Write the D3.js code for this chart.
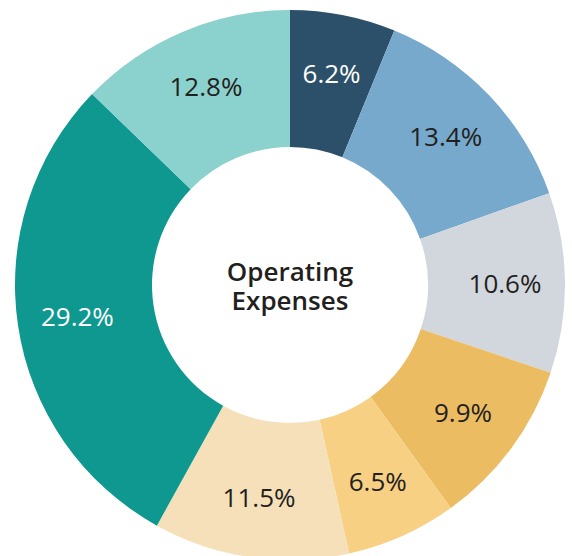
<!DOCTYPE html>
<html>
<head>
<script src="https://d3js.org/d3.v7.min.js"></script>
<style>
  body { margin: 0; background: #fff; }
  text { font-family: "Open Sans", sans-serif; }
</style>
</head>
<body>
<div id="viz"></div>
<script>
// slices, clockwise from 12 o'clock
var labels = ["6.2%", "13.4%", "10.6%", "9.9%", "6.5%", "11.5%", "29.2%", "12.8%"];
var values = [6.2, 13.4, 10.6, 9.9, 6.5, 11.5, 29.2, 12.8];
var colors = ["#2c5069", "#77a9cd", "#d2d7de", "#ecbc62", "#f7d084", "#f6e0ba", "#0e9890", "#8bd1cd"];
var textColors = ["#fff", "#231f20", "#231f20", "#231f20", "#231f20", "#231f20", "#fff", "#231f20"];
var centerTitle = ["Operating", "Expenses"];

var width = 572, height = 556,
    cx = 290, cy = 285,
    outerR = 275, innerR = 138;

var svg = d3.select("#viz")
  .append("svg")
    .attr("width", width)
    .attr("height", height)
  .append("g")
    .attr("transform", "translate(" + cx + "," + cy + ")");

var pie = d3.pie().sort(null).value(function(d) { return d; });
var arcs = pie(values);

var arc = d3.arc().innerRadius(innerR).outerRadius(outerR);
// labels sit a little outside the ring's middle
var labelArc = d3.arc().innerRadius(215).outerRadius(215);

svg.selectAll("path")
  .data(arcs)
  .enter()
  .append("path")
    .attr("d", arc)
    .attr("fill", function(d, i) { return colors[i]; });

// percentage labels
svg.selectAll("text.pct")
  .data(arcs)
  .enter()
  .append("text")
    .attr("class", "pct")
    .attr("transform", function(d) { return "translate(" + labelArc.centroid(d) + ")"; })
    .attr("text-anchor", "middle")
    .attr("dy", "0.36em")
    .style("font-size", "26px")
    .style("font-weight", 500)
    .style("fill", function(d, i) { return textColors[i]; })
    .text(function(d, i) { return labels[i]; });

// title in the hole, one text per line
svg.selectAll("text.title")
  .data(centerTitle)
  .enter()
  .append("text")
    .attr("class", "title")
    .attr("text-anchor", "middle")
    .attr("x", 0)
    .attr("y", function(d, i) { return -4 + i * 29; })
    .style("font-size", "26px")
    .style("font-weight", 600)
    .style("fill", "#231f20")
    .text(function(d) { return d; });
</script>
</body>
</html>
